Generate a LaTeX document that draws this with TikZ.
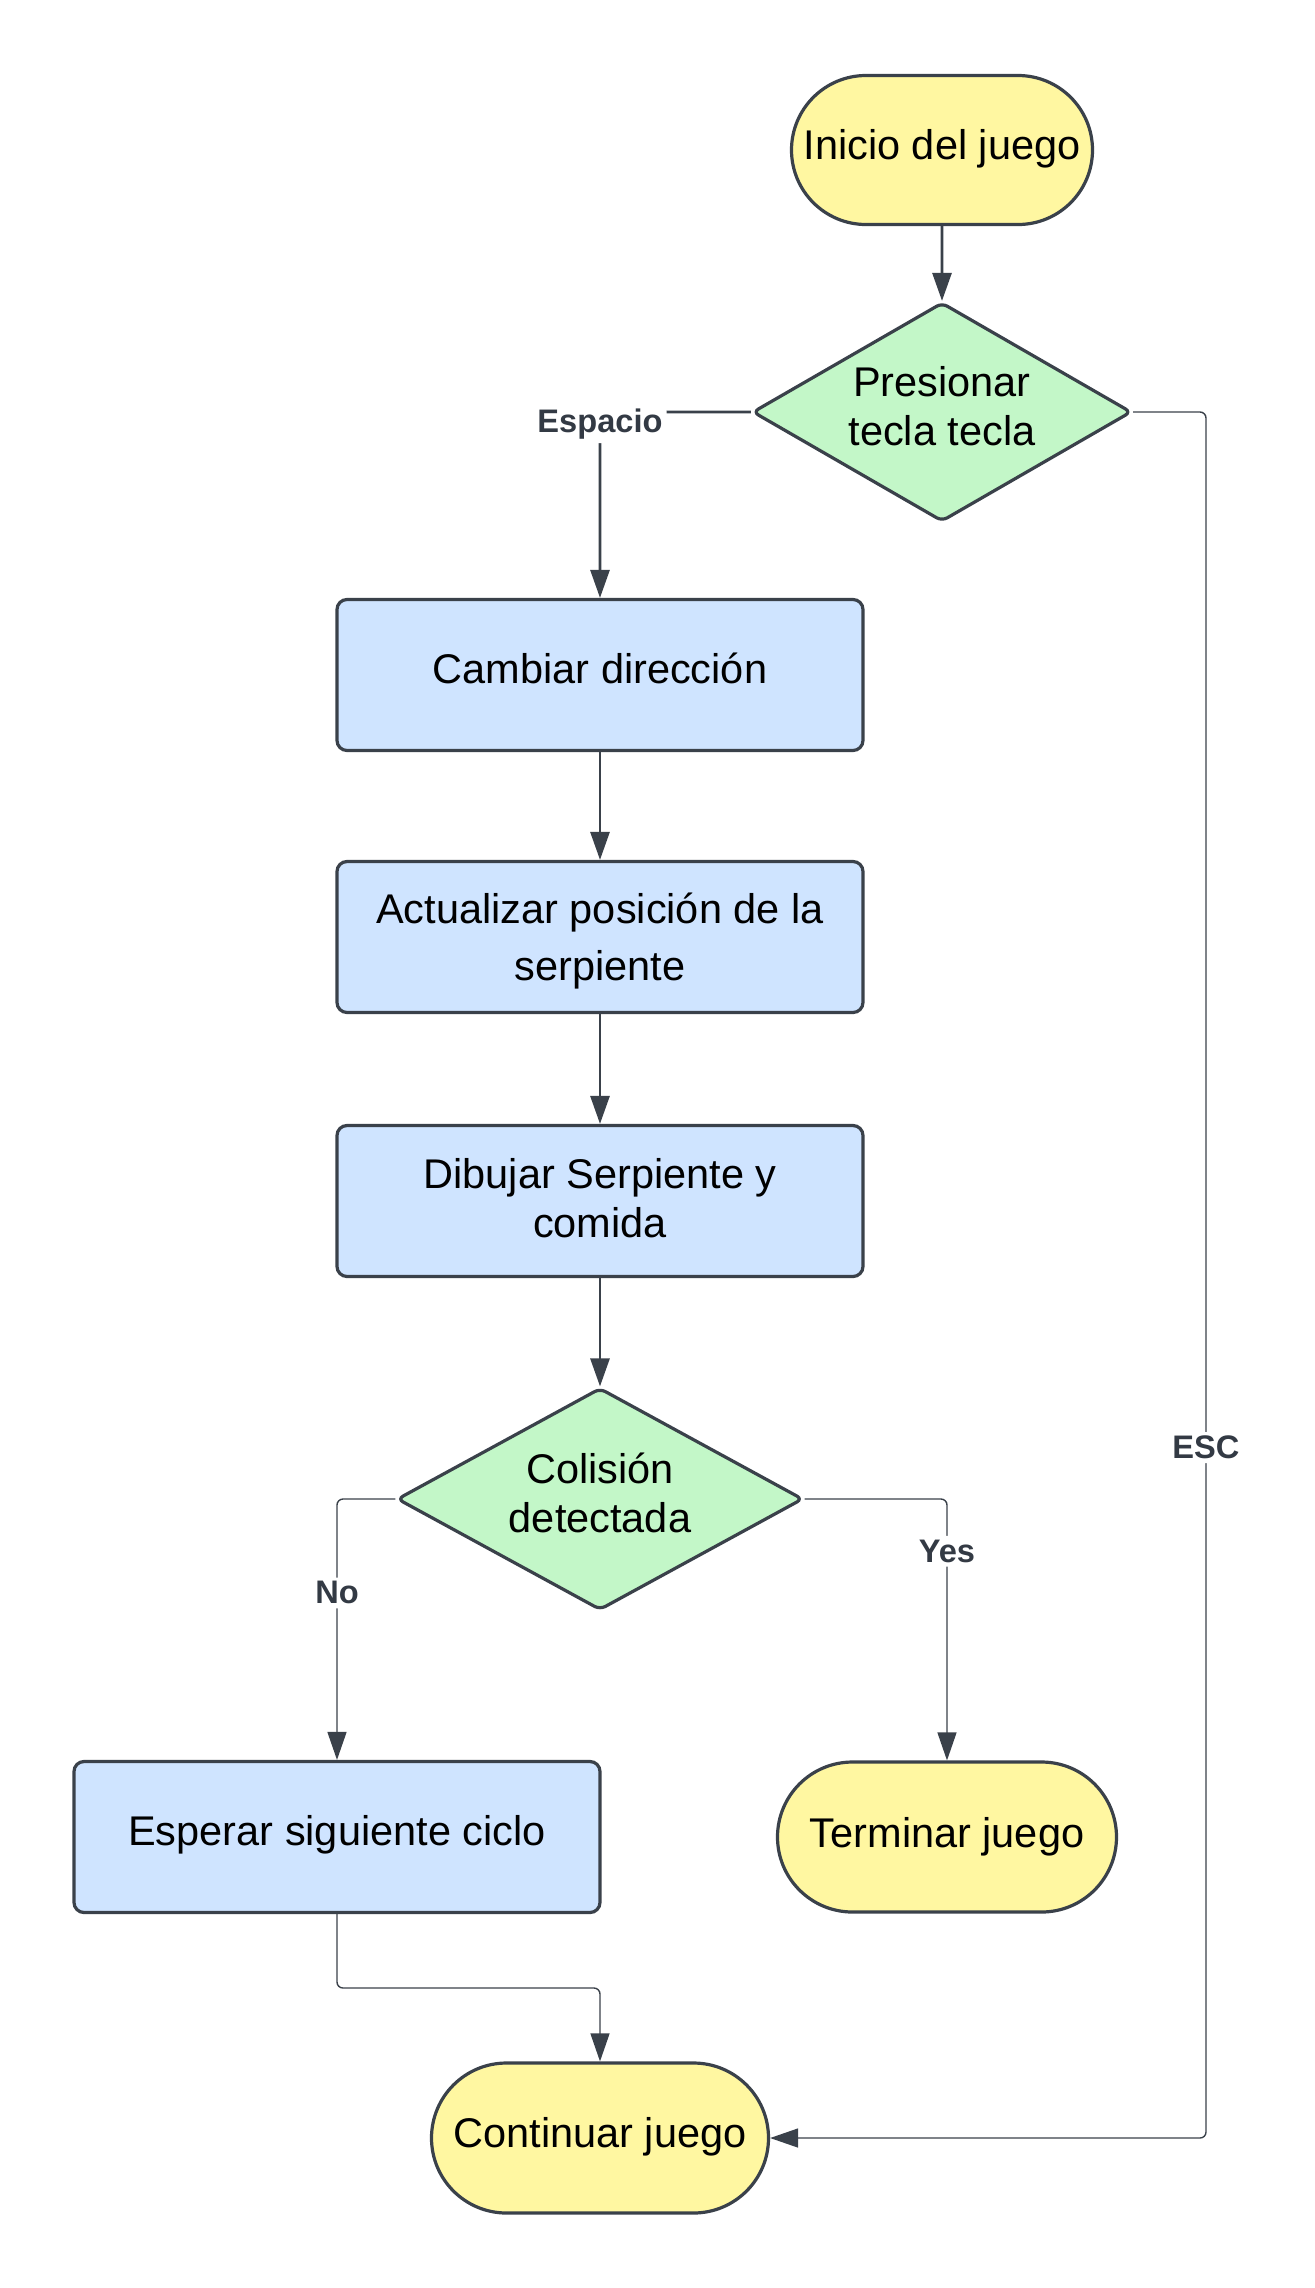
\documentclass[tikz,border=0pt]{standalone}
\usepackage{fontspec}
\setmainfont{Liberation Sans}
\usetikzlibrary{shapes.geometric, shapes.misc, arrows.meta}

\definecolor{edge}{HTML}{3A414A}
\definecolor{termfill}{HTML}{FFF7A1}
\definecolor{decfill}{HTML}{C3F7C8}
\definecolor{procfill}{HTML}{CFE4FF}
\definecolor{lbltext}{HTML}{333A44}

\begin{document}
\begin{tikzpicture}[x=0.5pt, y=-0.5pt,
		>={Triangle[length=14pt, width=9.5pt]},
		txt/.style={font=\fontsize{20.75}{24.5}\selectfont, align=center, text=black},
		lift/.style={text depth=#1},
		terminal/.style={txt, rounded rectangle, draw=edge, line width=1.6pt, fill=termfill, minimum height=75pt, inner sep=0pt},
		decision/.style={txt, diamond, draw=edge, line width=1.6pt, fill=decfill, rounded corners=3pt, inner sep=0pt, aspect=1.73, lift=6pt},
		process/.style={txt, rectangle, draw=edge, line width=1.6pt, fill=procfill, rounded corners=5pt, minimum width=263pt, minimum height=75.5pt},
		flow/.style={->, draw=edge, line width=1.4pt, rounded corners=3pt},
		thinflow/.style={->, draw=edge, line width=0.7pt, rounded corners=3pt},
		lbl/.style={font=\fontsize{16.3}{19}\selectfont\bfseries, text=lbltext, fill=white, inner sep=2pt}]

			\useasboundingbox (0,0) rectangle (1314,2288);

			% Macro for a process box.
			% Usage: \procbox{name}{(x,y)}{depth}{Text}
			\newcommand{\procbox}[4]{
				\node[process, lift=#3] (#1) at #2 {#4};
			}

			% Start and first decision
			\node[terminal, minimum width=150.5pt, minimum height=74.5pt, lift=6pt] (inicio) at (942,150) {Inicio del juego};
			\node[decision, minimum width=189.5pt, minimum height=109.5pt] (tecla) at (942,412) {Presionar\\tecla tecla};

			% Main chain of steps
			\procbox{cambiar}{(600,675)}{7pt}{Cambiar dirección};
			\procbox{actualizar}{(600,937)}{0pt}{Actualizar posición de la\\[4pt]serpiente};
			\procbox{dibujar}{(600,1201)}{3pt}{Dibujar Serpiente y\\comida};
			\node[decision, minimum width=203pt, minimum height=111pt] (colision) at (600,1499) {Colisión\\detectada};

			% Outcomes
			\procbox{esperar}{(337,1837)}{6.4pt}{Esperar siguiente ciclo};
			\node[terminal, minimum width=169.5pt] (terminar) at (947,1837) {Terminar juego};
			\node[terminal, minimum width=168.5pt, lift=6pt] (continuar) at (600,2138) {Continuar juego};

			% Bend points
			\coordinate (retorno) at (600,1988);
			\coordinate (esc) at (1206,2138);

			% Connectors
			\draw[flow] (inicio) -- (tecla);
			\draw[flow] (tecla.west) -| node[lbl, yshift=-6pt] {Espacio} (cambiar.north);
			\draw[flow] (cambiar) -- (actualizar);
			\draw[flow] (actualizar) -- (dibujar);
			\draw[flow] (dibujar) -- (colision);
			\draw[thinflow] (colision.west) -| node[lbl, pos=0.68] {No} (esperar.north);
			\draw[thinflow] (colision.east) -| node[lbl, pos=0.6] {Yes} (terminar.north);
			\draw[thinflow] (esperar.south) |- (retorno) -- (continuar.north);
			\draw[thinflow] (tecla.east) -| node[lbl, pos=0.8] {ESC} (esc) -- (continuar.east);
		\end{tikzpicture}
\end{document}
